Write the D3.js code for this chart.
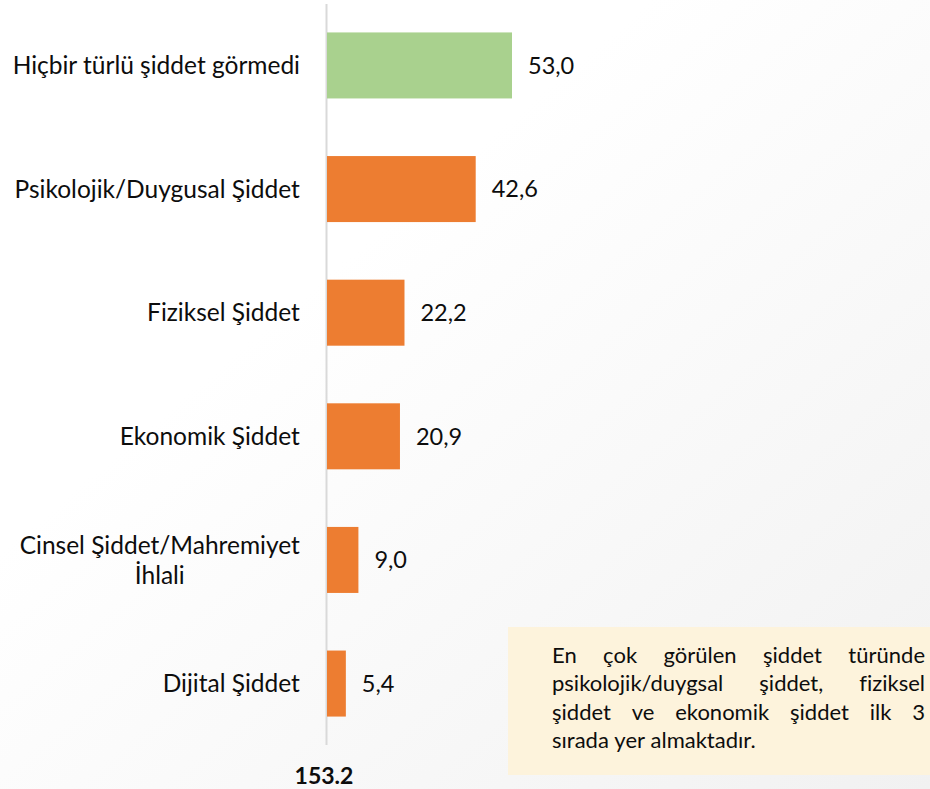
<!DOCTYPE html>
<html><head><meta charset="utf-8">
<script src="https://cdn.jsdelivr.net/npm/d3@7"></script>
<style>
html,body{margin:0;padding:0;background:#fff;}
svg text{font-family:Lato,"Open Sans",sans-serif;fill:#0d0d0d;font-variant-ligatures:none;}
</style></head>
<body>
<svg id="c" width="930" height="789"></svg>
<script>
const categories = ["Hiçbir türlü şiddet görmedi","Psikolojik/Duygusal Şiddet","Fiziksel Şiddet","Ekonomik Şiddet","Cinsel Şiddet/Mahremiyet\nİhlali","Dijital Şiddet"];
const values = [53.0, 42.6, 22.2, 20.9, 9.0, 5.4];
const valueLabels = ["53,0","42,6","22,2","20,9","9,0","5,4"];
const barColors = ["#a9d18e","#ed7d31","#ed7d31","#ed7d31","#ed7d31","#ed7d31"];
const footer = "153.2";
const noteLines = ["En çok görülen şiddet türünde","psikolojik/duygsal şiddet, fiziksel","şiddet ve ekonomik şiddet ilk 3","sırada yer almaktadır."];

const svg = d3.select("#c");
const defs = svg.append("defs");
const lg = defs.append("linearGradient").attr("id","bg").attr("x1","0").attr("y1","0").attr("x2","1").attr("y2","1");
lg.append("stop").attr("offset","0.35").attr("stop-color","#ffffff");
lg.append("stop").attr("offset","1").attr("stop-color","#f1f1f1");
svg.append("rect").attr("width",930).attr("height",789).attr("fill","url(#bg)");

const x = d3.scaleLinear().domain([0, 53]).range([327, 512]);
const y = d3.scaleBand().domain(categories).range([4, 745]).paddingInner(0.466).paddingOuter(0.23);

svg.append("line").attr("x1",326.5).attr("x2",326.5).attr("y1",4).attr("y2",745)
  .attr("stroke","#d9d9d9").attr("stroke-width",2);

svg.selectAll("rect.bar").data(values).join("rect").attr("class","bar")
  .attr("x", x(0)).attr("y",(d,i)=>y(categories[i]))
  .attr("width", d=>x(d)-x(0)).attr("height", y.bandwidth())
  .attr("fill",(d,i)=>barColors[i]);

svg.selectAll("text.val").data(values).join("text").attr("class","val")
  .attr("x", d=>x(d)+16).attr("y",(d,i)=>y(categories[i])+y.bandwidth()/2)
  .attr("dy","0.35em").attr("font-size",23.5).text((d,i)=>valueLabels[i]);

categories.forEach((c,i)=>{
  const lines = c.split("\n");
  const cy = y(c)+y.bandwidth()/2;
  const lh = 30;
  const t = svg.append("text").attr("font-size",24.5).attr("text-anchor","middle");
  lines.forEach((l,j)=>{
    t.append("tspan").attr("x",0).attr("y", cy + (j-(lines.length-1)/2)*lh).attr("dy","0.35em").text(l);
  });
  const w = t.node().getBBox().width;
  t.attr("transform",`translate(${300 - w/2},0)`);
});

svg.append("text").attr("x",324).attr("y",776).attr("dy","0.35em").attr("text-anchor","middle")
  .attr("font-size",23).attr("font-weight","bold").text(footer);

// note box
svg.append("rect").attr("x",508).attr("y",627).attr("width",422).attr("height",148).attr("fill","#fdf3dc");
const left = 552, right = 925, fs = 22, lineH = 28.5, top0 = 655;
noteLines.forEach((ln,li)=>{
  const ws = ln.split(" ");
  const ly = top0 + li*lineH;
  const widths = ws.map(wd=>{const t=svg.append("text").attr("font-size",fs).text(wd);const w=t.node().getComputedTextLength();t.remove();return w;});
  const total = d3.sum(widths);
  const gap = (li<noteLines.length-1 && ws.length>1) ? (right-left-total)/(ws.length-1) : fs*0.25;
  let cx = left;
  ws.forEach((wd,k)=>{
    svg.append("text").attr("x",cx).attr("y",ly).attr("dy","0.35em").attr("font-size",fs).text(wd);
    cx += widths[k]+gap;
  });
});
</script>
</body></html>
